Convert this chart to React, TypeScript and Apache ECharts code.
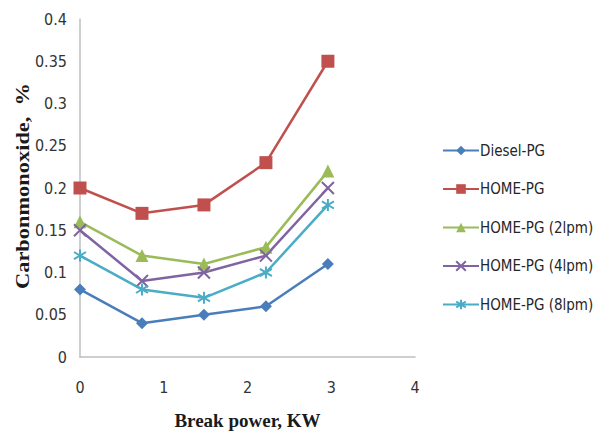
import React, { useEffect, useRef } from "react";
import * as echarts from "echarts";

const xValues = [0, 0.74, 1.48, 2.22, 2.96];
const seriesNames = ["Diesel-PG", "HOME-PG", "HOME-PG (2lpm)", "HOME-PG (4lpm)", "HOME-PG (8lpm)"];
const dieselPG = [0.08, 0.04, 0.05, 0.06, 0.11];
const homePG = [0.2, 0.17, 0.18, 0.23, 0.35];
const homePG2 = [0.16, 0.12, 0.11, 0.13, 0.22];
const homePG4 = [0.15, 0.09, 0.1, 0.12, 0.2];
const homePG8 = [0.12, 0.08, 0.07, 0.1, 0.18];
const colors = ["#4A7EBB", "#C0504D", "#9BBB59", "#8064A2", "#4BACC6"];
const yTitle = "Carbonmonoxide,  %";
const xTitle = "Break power, KW";

const crossPath = "path://M0,0L10,10M10,0L0,10";
const starPath = "path://M5,0L5,10M0,2L10,8M0,8L10,2";

export default function App() {
  const ref = useRef<HTMLDivElement>(null);
  useEffect(() => {
    if (!ref.current) return;
    const chart = echarts.init(ref.current, null, { renderer: "svg" });
    const values = [dieselPG, homePG, homePG2, homePG4, homePG8];
    const symbols = ["diamond", "rect", "triangle", crossPath, starPath];
    const sizes = [12, 13, 13, 12, 12];
    const font = "'Liberation Sans Narrow', 'DejaVu Sans Condensed', 'Open Sans', sans-serif";
    const series = seriesNames.map((name, i) => {
      const isStroke = i >= 3;
      return {
        name,
        type: "line",
        data: xValues.map((x, j) => [x, values[i][j]]),
        symbol: symbols[i],
        symbolSize: sizes[i],
        lineStyle: { color: colors[i], width: 2.5 },
        itemStyle: isStroke
          ? { color: colors[i], borderColor: colors[i], borderWidth: 2 }
          : { color: colors[i], borderWidth: 0 },
      };
    });
    chart.setOption({
      animation: false,
      backgroundColor: "#ffffff",
      grid: { left: 80, right: 180, top: 19, bottom: 78 },
      graphic: [
        {
          type: "text",
          x: 22,
          y: 186,
          rotation: Math.PI / 2,
          scaleX: 1.18,
          style: {
            text: yTitle,
            fontFamily: "'Liberation Serif', serif",
            fontWeight: "bold",
            fontSize: 19,
            fill: "#1a1a1a",
            align: "center",
            verticalAlign: "middle",
          },
        },
      ],
      legend: {
        orient: "vertical",
        left: 437,
        top: 138,
        itemWidth: 36,
        itemHeight: 12,
        itemGap: 23.5,
        data: seriesNames,
        textStyle: { fontFamily: font, fontSize: 15, color: "#262626", padding: [0, 0, 0, -4] },
      },
      xAxis: {
        type: "value",
        min: 0,
        max: 4,
        interval: 1,
        name: xTitle,
        nameLocation: "middle",
        nameGap: 54,
        nameTextStyle: { fontFamily: "'Liberation Serif', serif", fontWeight: "bold", fontSize: 19, color: "#1a1a1a" },
        axisLine: { lineStyle: { color: "#BFBFBF", width: 1.5 } },
        axisTick: { show: false },
        splitLine: { show: false },
        axisLabel: { fontFamily: font, fontSize: 16, color: "#333333", margin: 22 },
      },
      yAxis: {
        type: "value",
        min: 0,
        max: 0.4,
        interval: 0.05,
        axisLine: { show: true, lineStyle: { color: "#BFBFBF", width: 1.5 } },
        axisTick: { show: false },
        splitLine: { show: false },
        axisLabel: { fontFamily: font, fontSize: 16, color: "#333333", margin: 13 },
      },
      series,
    });
    return () => chart.dispose();
  }, []);
  return <div ref={ref} style={{ width: 595, height: 435, position: "absolute", left: 0, top: 0 }} />;
}
